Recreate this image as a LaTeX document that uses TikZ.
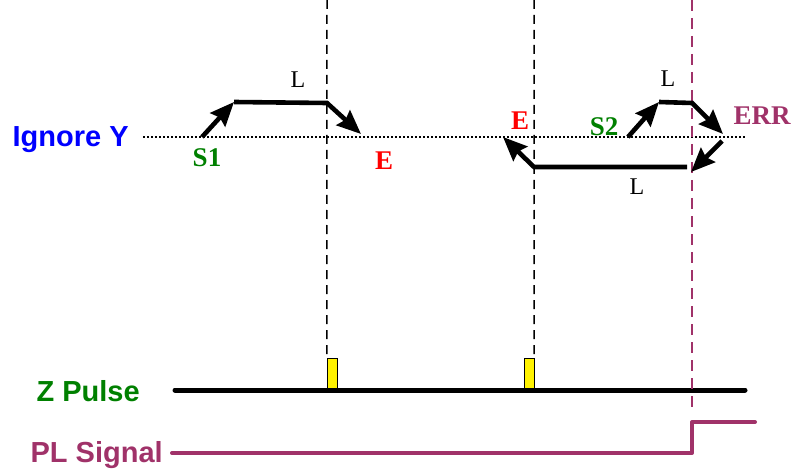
\documentclass[tikz,border=0pt]{standalone}
\usepackage{fontspec}
\setmainfont{Liberation Serif}
\setsansfont{Liberation Sans}
\usetikzlibrary{arrows.meta, positioning}
\definecolor{plum}{RGB}{160,50,105}
\definecolor{zgreen}{RGB}{0,128,0}
\begin{document}
\begin{tikzpicture}[
    x = 1pt, y = -1pt, % one unit per pixel, y downwards
    semithick % line style
    ]

    \tikzset{
    move/.style = {draw = black, line width = 4.6pt, -{Stealth[length=24pt, width=20pt, inset=3pt]}},
    guide/.style = {draw = black, line width = 1.5pt, dash pattern = on 9pt off 6pt},
    errguide/.style = {draw = plum, line width = 2.2pt, dash pattern = on 11pt off 7pt},
    level/.style = {draw = black, line width = 1.5pt, dash pattern = on 2pt off 2pt},
    pulse/.style = {draw = black, thin, fill = yellow, minimum width = 10pt, minimum height = 32pt, inner sep = 0pt},
    rowlabel/.style = {font = \sffamily\bfseries\fontsize{29}{32}\selectfont, inner sep = 0pt, anchor = base east},
    tag/.style = {font = \bfseries\fontsize{27}{30}\selectfont, inner sep = 0pt, anchor = base},
    len/.style = {font = \fontsize{24}{27}\selectfont, inner sep = 0pt, anchor = base}
    }

    \useasboundingbox (0,0) rectangle (791,470);

    % row labels
    \node[rowlabel, blue] (ign) at (129,147) {Ignore Y};
    \node[rowlabel, zgreen] (zp) at (140,401) {Z Pulse};
    \node[rowlabel, plum] (pl) at (163,462) {PL Signal};

    % ignore level
    \coordinate (lv0) at (143,137);
    \coordinate (lv1) at (745,137);
    \draw[level] (lv0) -- (lv1);

    % z pulses
    \node[pulse] (p1) at (332,374) {};
    \node[pulse] (p2) at (529,374) {};
    \coordinate (z0) at (175,390);
    \coordinate (z1) at (745,390);
    \draw[line width = 5pt, line cap = round] (z0) -- (z1);

    % pl signal
    \coordinate (pl0) at (172,453);
    \coordinate (plup) at (692,453);
    \coordinate (plhi) at (692,422);
    \coordinate (pl1) at (755,422);
    \draw[plum, line width = 4pt, line cap = round, line join = round] (pl0) -- (plup) -- (plhi) -- (pl1);

    % guide lines
    \coordinate (g1) at (327,0);
    \coordinate (g2) at (534,0);
    \coordinate (g3) at (692,0);
    \coordinate (g3e) at (692,410);
    \draw[guide] (g1) -- (p1.north west);
    \draw[guide] (g2) -- (p2.north east);
    \draw[errguide] (g3) -- (g3e);

    % first move
    \coordinate (s1) at (202,137);
    \coordinate (a1) at (234,102);
    \coordinate (b1) at (327,103);
    \coordinate (e1) at (361,134);
    \draw[move] (s1) -- (a1);
    \draw[move] (a1) -- (b1) -- (e1);

    % second move
    \coordinate (s2) at (628,137);
    \coordinate (a2) at (659,102);
    \coordinate (b2) at (692,103);
    \coordinate (e2) at (723,134);
    \coordinate (r1) at (722,141);
    \coordinate (r2) at (691,172);
    \coordinate (c1) at (687,167);
    \coordinate (c2) at (534,167);
    \coordinate (e3) at (503,137);
    \draw[move] (s2) -- (a2);
    \draw[move] (a2) -- (b2) -- (e2);
    \draw[move] (r1) -- (r2);
    \draw[move] (c1) -- (c2) -- (e3);

    % labels
    \node[len] (l1) at (298,88) {L};
    \node[tag, zgreen] (t1) at (207,167) {S1};
    \node[tag, red] (t2) at (384,170) {E};
    \node[tag, red] (t3) at (520,130) {E};
    \node[tag, zgreen] (t4) at (604,136) {S2};
    \node[len] (l2) at (668,87) {L};
    \node[tag, plum] (t5) at (762,125) {ERR};
    \node[len] (l3) at (637,195) {L};

\end{tikzpicture}
\end{document}
